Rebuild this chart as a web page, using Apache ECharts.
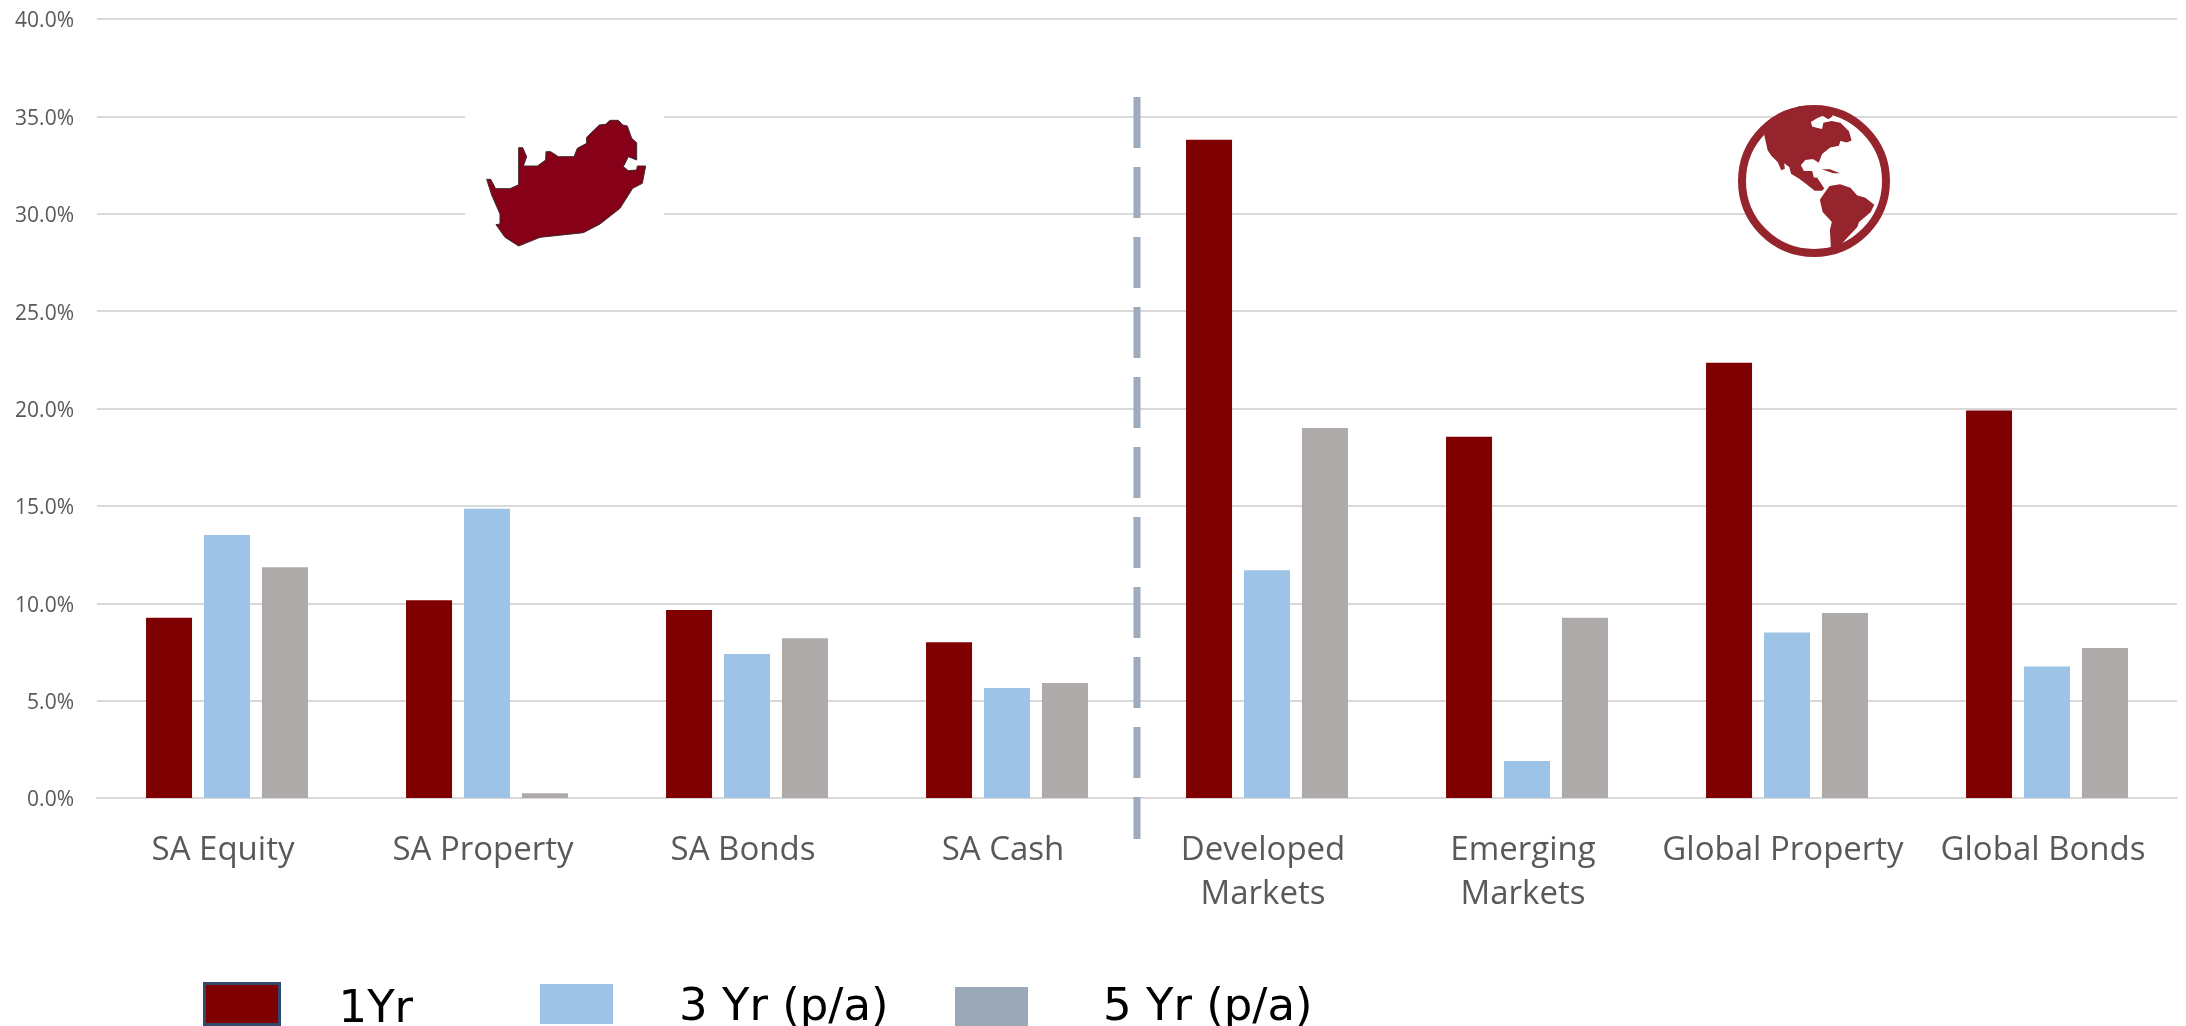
<!DOCTYPE html>
<html>
<head>
<meta charset="utf-8">
<style>html,body{margin:0;padding:0;background:#fff}#chart{width:2186px;height:1026px}</style>
<script src="https://cdn.jsdelivr.net/npm/echarts@6/dist/echarts.min.js"></script>
</head>
<body>
<div id="chart"></div>
<script>
// Asset-class returns, in percent
const categories = ['SA Equity', 'SA Property', 'SA Bonds', 'SA Cash', 'Developed\nMarkets', 'Emerging\nMarkets', 'Global Property', 'Global Bonds'];
const oneYear = [9.25, 10.15, 9.65, 8.0, 33.8, 18.55, 22.35, 19.9];
const threeYear = [13.5, 14.85, 7.4, 5.65, 11.7, 1.9, 8.5, 6.75];
const fiveYear = [11.85, 0.25, 8.2, 5.9, 19.0, 9.25, 9.5, 7.7];

// Divider between the local and the offshore groups: category boundary, percent range
const dividerAt = 4;
const dividerRange = [36.0, -2.1];

// Outlines of the two region emblems, in local icon units
const southAfrica = [[140,298],[152,298],[167,326],[210,326],[236,314],[236,203],[248,203],[260,230],[250,258],[292,258],[317,240],[318,215],[332,215],[355,230],[402,230],[412,205],[440,190],[440,172],[478,135],[497,133],[510,121],[535,121],[548,135],[562,138],[575,175],[590,188],[590,240],[565,230],[550,260],[565,272],[590,270],[592,258],[617,258],[607,310],[578,325],[540,385],[480,432],[430,458],[300,472],[236,498],[195,472],[168,434],[180,432],[180,402],[155,345]];
const northAmerica = [[195,135],[205,180],[215,195],[235,215],[245,238],[252,235],[250,215],[270,230],[275,250],[300,265],[320,280],[345,300],[365,300],[370,295],[350,265],[340,265],[335,245],[310,245],[300,225],[315,208],[340,205],[355,215],[365,190],[390,170],[415,165],[420,150],[440,155],[452,150],[445,125],[420,100],[395,95],[372,100],[368,120],[335,112],[330,95],[350,83],[368,75],[385,85],[395,78],[380,60],[300,50],[240,80]];
const southAmerica = [[362,330],[375,310],[390,290],[420,285],[450,295],[470,318],[495,325],[520,345],[510,365],[475,395],[470,410],[425,458],[395,475],[392,420],[398,395],[370,365]];
const cuba = [[365,238],[390,238],[420,250],[400,250]];

const RED = '#7f0000', BLUE = '#9dc3e6', GREY = '#aeaaaa';
const labelColor = '#595959';
const font = '"Open Sans", sans-serif';

function legendAt(name, left, top, swatch, textPad, textDrop) {
  return {
    left, top,
    padding: 0,
    orient: 'horizontal',
    itemWidth: swatch.w, itemHeight: swatch.h,
    selectedMode: false,
    data: [{ name, icon: 'rect', itemStyle: swatch.style }],
    formatter: '{t|{name}}',
    textStyle: {
      rich: { t: { fontFamily: '"DejaVu Sans", sans-serif', fontSize: 45, color: '#000', padding: [textDrop, 0, 0, textPad] } }
    }
  };
}

const toLocal = (pts, ox, oy) => pts.map(p => [ox + p[0] / 3, oy + p[1] / 3]);

const option = {
  animation: false,
  backgroundColor: '#fff',
  grid: { left: 97, right: 9, top: 19, bottom: 228, containLabel: false },
  xAxis: [
    {
      type: 'category', data: categories,
      axisTick: { show: false },
      axisLine: { lineStyle: { color: '#d9d9d9', width: 2 } },
      axisLabel: { color: labelColor, fontFamily: font, fontSize: 33, lineHeight: 44, margin: 31, interval: 0, padding: [0, 8, 0, 0] }
    },
    { type: 'value', min: 0, max: categories.length, show: false }
  ],
  yAxis: {
    type: 'value', min: 0, max: 40, interval: 5,
    axisLine: { show: false }, axisTick: { show: false },
    axisLabel: { color: labelColor, fontFamily: font, fontSize: 21, margin: 23, verticalAlign: 'top', lineHeight: 5, formatter: v => v.toFixed(1) + '%' },
    splitLine: { lineStyle: { color: '#d9d9d9', width: 2 } }
  },
  legend: [
    legendAt('1Yr', 203, 982, { w: 75, h: 41, style: { color: RED, borderColor: '#33486a', borderWidth: 3 } }, 54, 12),
    legendAt('3 Yr (p/a)', 540, 984, { w: 73, h: 40, style: { color: BLUE, borderWidth: 0 } }, 61, 8),
    legendAt('5 Yr (p/a)', 955, 986, { w: 73, h: 39, style: { color: '#9ba8b8', borderWidth: 0 } }, 70, 4)
  ],
  series: [
    { name: '1Yr', type: 'bar', data: oneYear, barWidth: 46, barGap: '26%', itemStyle: { color: RED }, z: 2 },
    { name: '3 Yr (p/a)', type: 'bar', data: threeYear, barWidth: 46, barGap: '26%', itemStyle: { color: BLUE }, z: 2 },
    { name: '5 Yr (p/a)', type: 'bar', data: fiveYear, barWidth: 46, barGap: '26%', itemStyle: { color: GREY }, z: 2 },
    {
      name: 'divider', type: 'line', xAxisIndex: 1, clip: false, silent: true, symbol: 'none',
      data: dividerRange.map(v => [dividerAt, v]),
      lineStyle: { color: '#9eabbb', width: 7, type: [51, 19], cap: 'butt' }, z: 3
    }
  ],
  graphic: [
    // White backing that interrupts the gridlines behind the South Africa emblem
    { type: 'rect', z: 5, shape: { x: 465, y: 100, width: 199, height: 130 }, style: { fill: '#fff' } },
    { type: 'polygon', z: 6, shape: { points: toLocal(southAfrica, 440, 80) }, style: { fill: '#860018', stroke: '#3a2a2a', lineWidth: 1 } },
    // Globe emblem
    { type: 'circle', z: 5, shape: { cx: 1814, cy: 181, r: 72 }, style: { fill: '#fff', stroke: '#96242c', lineWidth: 8 } },
    { type: 'polygon', z: 6, shape: { points: toLocal(northAmerica, 1700, 90) }, style: { fill: '#96242c', stroke: '#96242c', lineWidth: 1.5 } },
    { type: 'polygon', z: 6, shape: { points: toLocal(southAmerica, 1700, 90) }, style: { fill: '#96242c', stroke: '#96242c', lineWidth: 1.5 } },
    { type: 'polygon', z: 6, shape: { points: toLocal(cuba, 1700, 90) }, style: { fill: '#96242c' } }
  ]
};

const chart = echarts.init(document.getElementById('chart'), null, { renderer: 'canvas' });
chart.setOption(option);
</script>
</body>
</html>
